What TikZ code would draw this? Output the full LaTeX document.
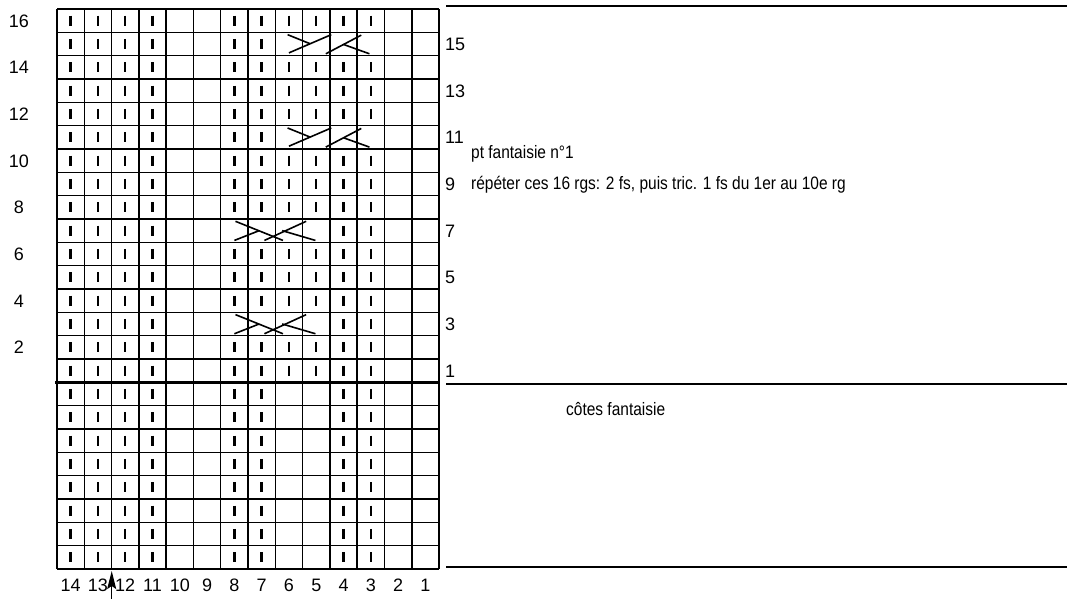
\documentclass[tikz,border=0pt]{standalone}
\usepackage{fontspec}
\setmainfont{Liberation Sans}
\usetikzlibrary{arrows.meta}
\begin{document}
\begin{tikzpicture}[x=1pt,y=-1pt,
  gridline/.style={line width=1.5pt},
  rulethick/.style={line width=2.6pt},
  stitch/.style={line width=2.4pt},
  cable/.style={line width=1.6pt},
  num/.style={font=\fontsize{18}{18}\selectfont, inner sep=0pt},
  lbl/.style={font=\fontsize{18}{18}\selectfont, inner sep=0pt, anchor=base west}]
\useasboundingbox[fill=white] (0,0) rectangle (1067,599);
\def\gx{57}\def\gw{27.29}\def\gy{9}\def\gh{23.33}
% grid
\foreach \i in {0,...,14} {\draw[gridline] ({\gx+\i*\gw},\gy) -- ({\gx+\i*\gw},{\gy+24*\gh});}
\foreach \j in {0,...,24} {\draw[gridline] (\gx,{\gy+\j*\gh}) -- ({\gx+14*\gw},{\gy+\j*\gh});}
\draw[rulethick] (55,{\gy+16*\gh}) -- (440,{\gy+16*\gh});
% right rules
\draw[rulethick] (446,6) -- (1067,6);
\draw[rulethick] (446,384) -- (1067,384);
\draw[rulethick] (446,567) -- (1067,567);
% stitches
\foreach \i/\cols in {0/{14,13,12,11,8,7,6,5,4,3},1/{14,13,12,11,8,7},2/{14,13,12,11,8,7,6,5,4,3},3/{14,13,12,11,8,7,6,5,4,3},4/{14,13,12,11,8,7,6,5,4,3},5/{14,13,12,11,8,7},6/{14,13,12,11,8,7,6,5,4,3},7/{14,13,12,11,8,7,6,5,4,3},8/{14,13,12,11,8,7,6,5,4,3},9/{14,13,12,11,4,3},10/{14,13,12,11,8,7,6,5,4,3},11/{14,13,12,11,8,7,6,5,4,3},12/{14,13,12,11,8,7,6,5,4,3},13/{14,13,12,11,4,3},14/{14,13,12,11,8,7,6,5,4,3},15/{14,13,12,11,8,7,6,5,4,3},16/{14,13,12,11,8,7,4,3},17/{14,13,12,11,8,7,4,3},18/{14,13,12,11,8,7,4,3},19/{14,13,12,11,8,7,4,3},20/{14,13,12,11,8,7,4,3},21/{14,13,12,11,8,7,4,3},22/{14,13,12,11,8,7,4,3},23/{14,13,12,11,8,7,4,3}}
  {\foreach \c in \cols
    {\draw[stitch] ({\gx+(14.5-\c)*\gw},{\gy+(\i+0.5)*\gh-5}) -- ({\gx+(14.5-\c)*\gw},{\gy+(\i+0.5)*\gh+5});}}
% cables rows 15, 11 (cols 6..3)
\foreach \i in {1,5}{
  \begin{scope}[shift={({\gx+8*\gw},{\gy+\i*\gh})},x=27.29pt,y=-23.33pt]
    \draw[cable] (0.5,0.88) -- (2.05,0.1);
    \draw[cable] (0.45,0.1) -- (1.275,0.49);
    \draw[cable] (1.85,0.92) -- (3.15,0.12);
    \draw[cable] (2.5,0.52) -- (3.45,0.92);
  \end{scope}}
% cables rows 7, 3 (cols 8..5)
\foreach \i in {9,13}{
  \begin{scope}[shift={({\gx+6*\gw},{\gy+\i*\gh})},x=27.29pt,y=-23.33pt]
    \draw[cable] (0.54,0.1) -- (2.28,0.92);
    \draw[cable] (0.5,0.92) -- (1.41,0.5);
    \draw[cable] (1.6,0.92) -- (3.13,0.1);
    \draw[cable] (2.25,0.5) -- (3.47,0.92);
  \end{scope}}
% left row numbers
\foreach \n [count=\k from 0] in {16,14,12,10,8,6,4,2}
  {\node[num, anchor=base] (L\n) at (19,{\gy+(2*\k+0.5)*\gh+6.5}) {\n};}
% right row numbers
\foreach \n [count=\k from 0] in {15,13,11,9,7,5,3,1}
  {\node[num, anchor=base west] (R\n) at (445,{\gy+(2*\k+1.5)*\gh+6.5}) {\n};}
% bottom column numbers
\foreach \c in {14,13,...,1}
  {\node[num, anchor=base] (B\c) at ({\gx+(14.5-\c)*\gw},591) {\c};}
% arrow
\coordinate (arrowfoot) at (111.7,599);
\coordinate (arrowtip) at (111.7,571);
\draw[line width=1.2pt,-{Stealth[length=18pt,width=9pt,inset=3pt]}] (arrowfoot) -- (arrowtip);
% labels
\node[lbl] (title) at (471,158) {\scalebox{0.86}[1]{pt fantaisie n°1}};
\node[lbl] (repeat) at (471,189) {\scalebox{0.86}[1]{répéter ces 16 rgs: 2 fs, puis tric. 1 fs du 1er au 10e rg}};
\node[lbl] (ribs) at (566,415) {\scalebox{0.86}[1]{côtes fantaisie}};
\end{tikzpicture}
\end{document}
